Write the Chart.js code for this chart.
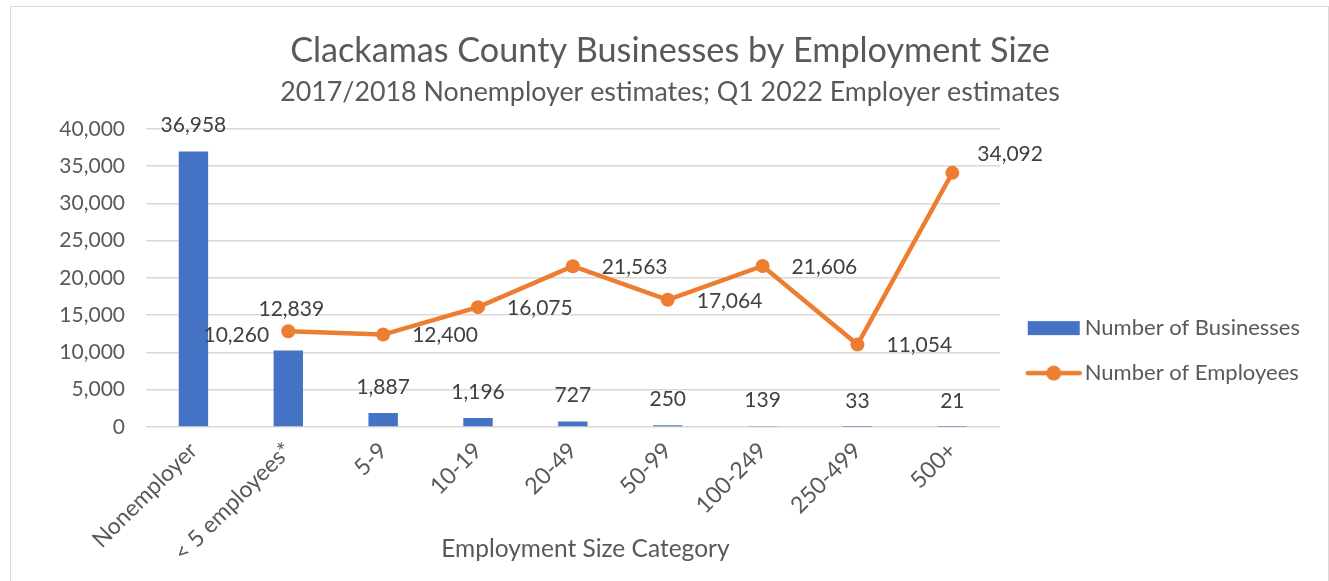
<!DOCTYPE html>
<html>
<head>
<meta charset="utf-8">
<title>Clackamas County Businesses by Employment Size</title>
<script src="https://cdn.jsdelivr.net/npm/chart.js@4.4.1/dist/chart.umd.min.js"></script>
<style>
  html, body { margin: 0; padding: 0; background: #fff; overflow: hidden; }
  #frame {
    position: absolute; left: 10px; top: 6px;
    width: 1317px; height: 600px;
    border: 1px solid #d9d9d9; border-bottom: none;
  }
  #frame canvas { display: block; }
</style>
</head>
<body>
<div id="frame"><canvas id="size-chart" width="1317" height="574"></canvas></div>
<script>
// ---- Data ---------------------------------------------------
const categories = ['Nonemployer', '< 5 employees*', '5-9', '10-19', '20-49', '50-99', '100-249', '250-499', '500+'];
const businesses = [36958, 10260, 1887, 1196, 727, 250, 139, 33, 21];
const employees  = [null, 12839, 12400, 16075, 21563, 17064, 21606, 11054, 34092];

const yMin  = 0;
const yMax  = 40000;
const yStep = 5000;

// ---- Look ---------------------------------------------------
const FONT   = 'Lato, "Open Sans", sans-serif';
const BLUE   = '#4472C4';
const ORANGE = '#ED7D31';
const GREY   = '#595959';
const DARK   = '#404040';

const fmt = v => v.toLocaleString('en-US');

// Value label placement: [dx, dy, align] relative to the bar top / point
const barLabelPlace  = categories.map(() => [0, -26, 'center']);
barLabelPlace[1] = [-52, -15, 'center'];
const lineLabelPlace = categories.map(() => [29, 1, 'left']);
lineLabelPlace[1] = [3, -22, 'center'];
lineLabelPlace[8] = [25, -19, 'left'];

// Legend swatches (left margin keeps them close to their text)
function barSwatch() {
  const c = document.createElement('canvas');
  c.width = 71; c.height = 16;
  const g = c.getContext('2d');
  g.fillStyle = BLUE;
  g.fillRect(15, 1, 52, 14);
  return c;
}
function lineSwatch() {
  const c = document.createElement('canvas');
  c.width = 71; c.height = 16;
  const g = c.getContext('2d');
  g.strokeStyle = ORANGE;
  g.lineWidth = 4.5;
  g.lineCap = 'round';
  g.beginPath(); g.moveTo(15, 8); g.lineTo(67, 8); g.stroke();
  g.fillStyle = ORANGE;
  g.beginPath(); g.arc(41, 8, 7.5, 0, Math.PI * 2); g.fill();
  return c;
}
const swatches = [barSwatch(), lineSwatch()];

// Numbers above bars / beside points
const valueLabels = {
  id: 'valueLabels',
  afterDatasetsDraw(chart) {
    const ctx = chart.ctx;
    ctx.save();
    ctx.font = '21px ' + FONT;
    ctx.fillStyle = DARK;
    ctx.textBaseline = 'middle';
    chart.data.datasets.forEach((ds, di) => {
      const meta  = chart.getDatasetMeta(di);
      const place = di === 0 ? barLabelPlace : lineLabelPlace;
      meta.data.forEach((el, i) => {
        const v = ds.data[i];
        if (v === null || v === undefined) return;
        const [dx, dy, align] = place[i];
        ctx.textAlign = align;
        ctx.fillText(fmt(v), el.x + dx, el.y + dy);
      });
    });
    ctx.restore();
  }
};

new Chart(document.getElementById('size-chart'), {
  type: 'bar',
  data: {
    labels: categories,
    datasets: [
      {
        label: 'Number of Businesses',
        data: businesses,
        backgroundColor: BLUE,
        barPercentage: 0.31,
        categoryPercentage: 1,
        order: 1
      },
      {
        type: 'line',
        label: 'Number of Employees',
        data: employees,
        borderColor: ORANGE,
        backgroundColor: ORANGE,
        borderWidth: 4.5,
        pointRadius: 7,
        pointHoverRadius: 7,
        pointBackgroundColor: ORANGE,
        pointBorderWidth: 0,
        tension: 0,
        order: 0
      }
    ]
  },
  options: {
    responsive: false,
    animation: false,
    layout: { padding: { left: 19, right: 18, top: 0, bottom: 0 } },
    scales: {
      x: {
        grid: { display: false, drawTicks: false },
        border: { display: false },
        ticks: {
          color: GREY, font: { family: FONT, size: 23 },
          minRotation: 45, maxRotation: 45, padding: 10, autoSkip: false
        },
        title: {
          display: true, text: '    Employment Size Category', color: GREY,
          font: { family: FONT, size: 24.5 }, padding: { top: 0, bottom: 17 }
        },
        afterFit(scale) { scale.height = 154; }
      },
      y: {
        min: yMin, max: yMax,
        grid: { color: '#d9d9d9', lineWidth: 1.5, drawTicks: false },
        border: { display: false },
        ticks: {
          stepSize: yStep, color: GREY, padding: 21,
          font: { family: FONT, size: 21 },
          callback: v => fmt(v)
        },
        afterFit(scale) { scale.width = 116; }
      }
    },
    plugins: {
      title: {
        display: true,
        text: 'Clackamas County Businesses by Employment Size',
        color: GREY,
        font: { family: FONT, size: 34.2, weight: 'normal' },
        padding: { top: 23.6, bottom: 2 }
      },
      subtitle: {
        display: true,
        text: '2017/2018 Nonemployer estimates; Q1 2022 Employer estimates',
        color: GREY,
        font: { family: FONT, size: 26.8 },
        padding: { top: 3, bottom: 20 }
      },
      legend: {
        position: 'right',
        // empty title block pushes the entries down beside the plot
        title: { display: true, text: ' ', padding: { top: 112, bottom: 0 }, font: { size: 1 } },
        labels: {
          usePointStyle: true,
          pointStyleWidth: 51,
          color: GREY,
          padding: 23,
          font: { family: FONT, size: 22 },
          generateLabels(chart) {
            const items = Chart.defaults.plugins.legend.labels.generateLabels(chart);
            items.sort((a, b) => a.datasetIndex - b.datasetIndex);
            items.forEach(it => { it.pointStyle = swatches[it.datasetIndex]; });
            return items;
          }
        }
      },
      tooltip: { enabled: false }
    }
  },
  plugins: [valueLabels]
});
</script>
</body>
</html>
